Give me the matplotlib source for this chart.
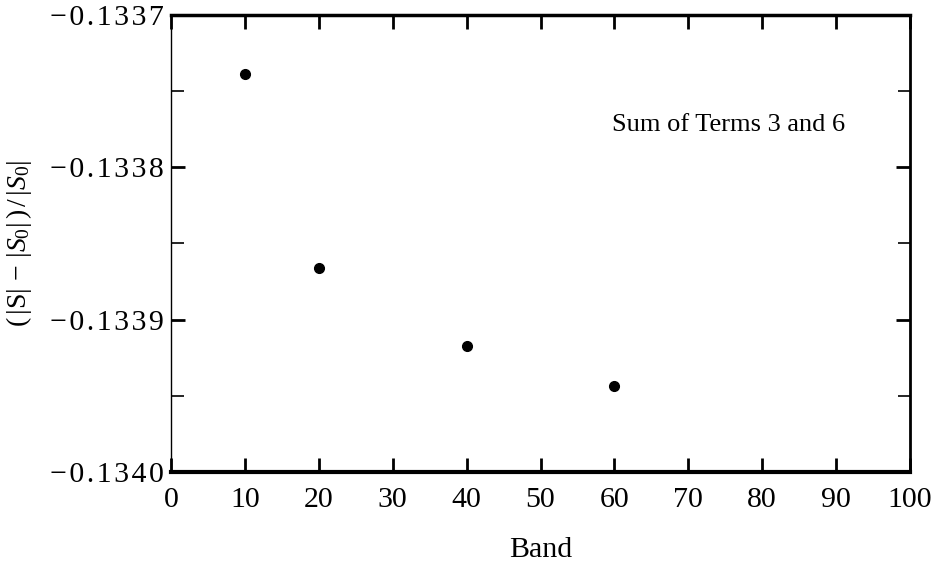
import numpy as np
import matplotlib.pyplot as plt
from matplotlib.ticker import FixedLocator, FuncFormatter

plt.rcParams['font.family'] = ['Liberation Serif', 'DejaVu Serif']
plt.rcParams['mathtext.fontset'] = 'custom'
plt.rcParams['mathtext.rm'] = 'Liberation Serif'
plt.rcParams['mathtext.it'] = 'Liberation Serif:italic'

# relative deviation per band count
bands = [10, 20, 40, 60]
rel_dev = [-0.1337387, -0.1338661, -0.1339173, -0.1339435]

y_major = [-0.1340, -0.1339, -0.1338, -0.1337]
y_minor = [-0.13395, -0.13385, -0.13375]
x_major = [0, 10, 20, 30, 40, 50, 60, 70, 80, 90, 100]

HS = '\u200a'  # hair space


def ylab(v, pos):
    # loose spacing, minus sign set apart from the number
    return HS.join(f'{v:.4f}'.replace('-', '\u2212'))


fig = plt.figure(figsize=(9.4, 5.67), dpi=100)
ax = fig.add_axes([0.182, 0.1676, 0.786, 0.806])

ax.plot(bands, rel_dev, 'o', color='black', ms=7, clip_on=False)

ax.set_xlim(0, 100)
ax.set_ylim(-0.1340, -0.1337)

ax.xaxis.set_major_locator(FixedLocator(x_major))
ax.yaxis.set_major_locator(FixedLocator(y_major))
ax.yaxis.set_minor_locator(FixedLocator(y_minor))
ax.xaxis.set_major_formatter(FuncFormatter(lambda v, p: f'{v:.0f}'))
ax.yaxis.set_major_formatter(FuncFormatter(ylab))

ax.tick_params(which='both', direction='in', top=True, right=True,
               labelsize=21.5, color='black')
ax.tick_params(which='major', length=10, width=2)
ax.tick_params(which='minor', length=9, width=1.2)
ax.tick_params(axis='x', pad=11)
ax.tick_params(axis='y', pad=5)

ax.spines['left'].set_linewidth(1)
ax.spines['top'].set_linewidth(2.5)
ax.spines['right'].set_linewidth(2)
ax.spines['bottom'].set_linewidth(3)

ax.set_xlabel('Band', fontsize=21.5, labelpad=17)
ax.set_ylabel(r'$(\,|\mathrm{S}|\,-\,|S_0|\,)\,/\,|S_0|$', fontsize=20, labelpad=12)

ax.text(59.7, -0.1337722, 'Sum of Terms 3 and 6',
        fontsize=19, va='center', ha='left')

fig.savefig('out.png', dpi=100)
